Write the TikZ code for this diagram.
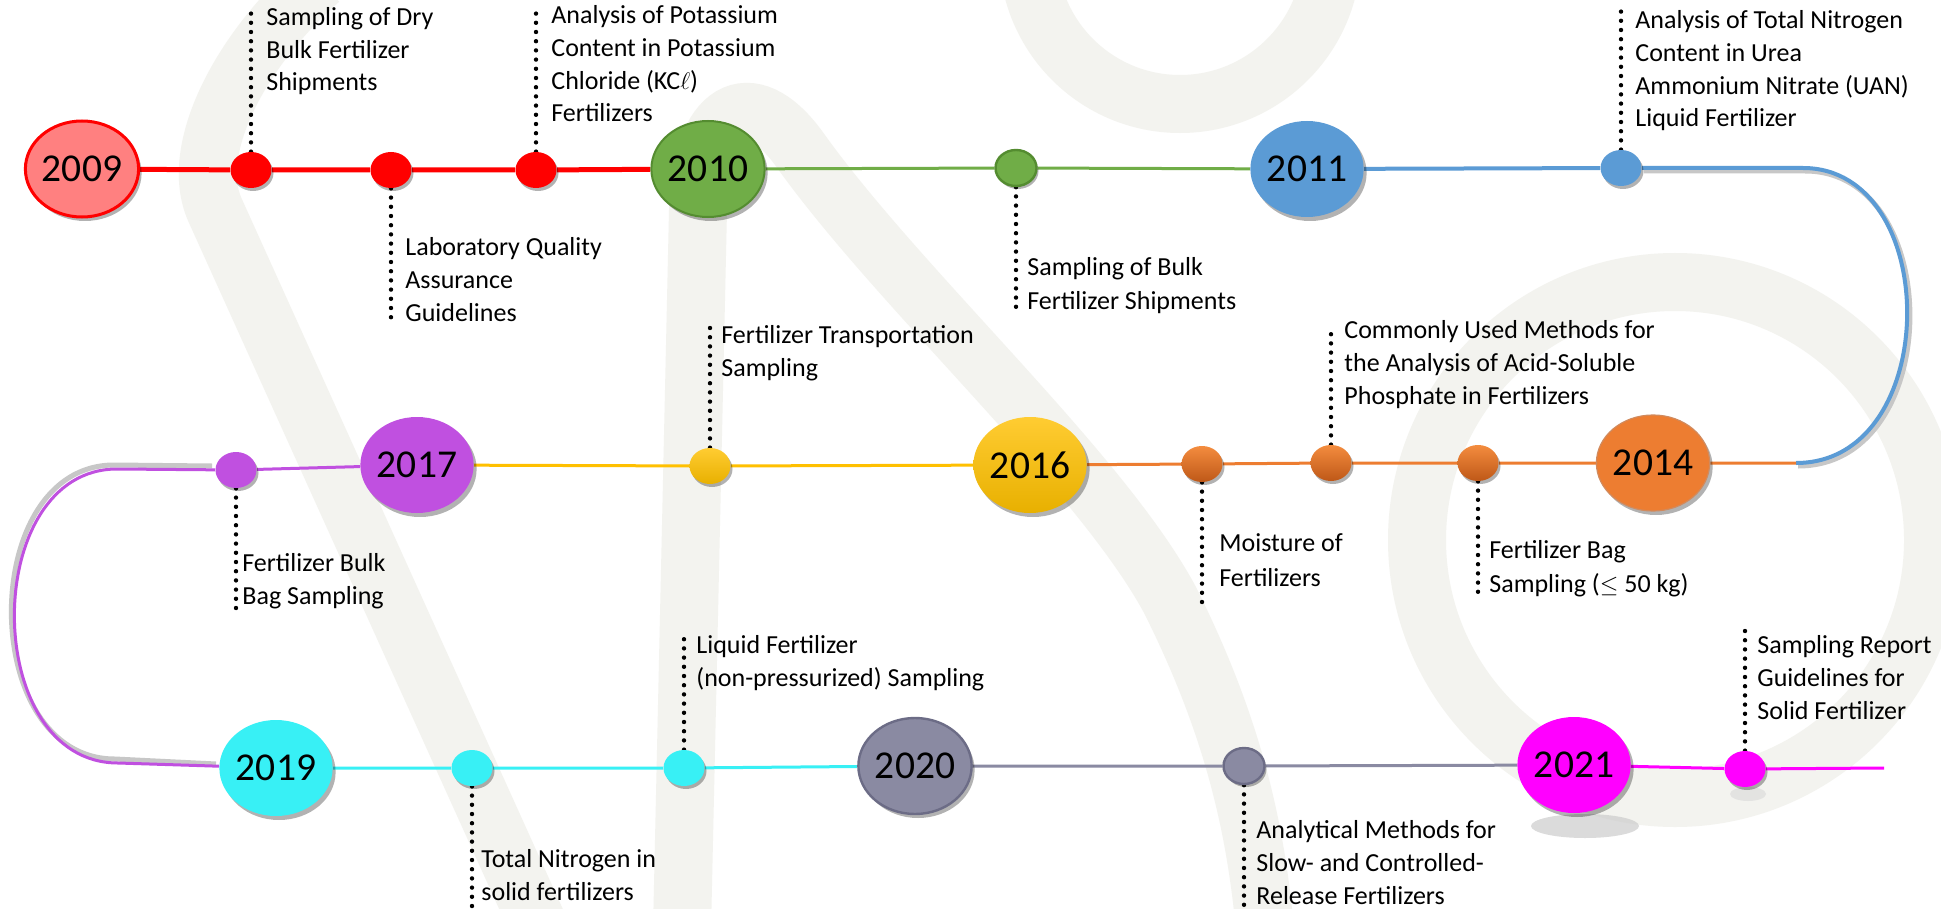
\documentclass[tikz,border=0pt]{standalone}
\usepackage{fontspec}
\setmainfont{Carlito}
\usetikzlibrary{shapes.geometric,shadows}
\definecolor{bandgray}{RGB}{243,243,239}
\definecolor{cRed}{RGB}{255,0,0}
\definecolor{cSalmon}{RGB}{255,128,128}
\definecolor{cGreen}{RGB}{112,173,71}
\definecolor{cGreenD}{RGB}{84,140,48}
\definecolor{cBlue}{RGB}{91,155,213}
\definecolor{cOrange}{RGB}{237,125,49}
\definecolor{cOrangeL}{RGB}{244,140,62}
\definecolor{cOrangeD}{RGB}{190,88,24}
\definecolor{cGold}{RGB}{255,192,0}
\definecolor{cGoldL}{RGB}{255,204,50}
\definecolor{cGoldD}{RGB}{232,176,0}
\definecolor{cPurple}{RGB}{192,80,224}
\definecolor{cCyan}{RGB}{56,240,245}
\definecolor{cGray}{RGB}{138,138,162}
\definecolor{cGrayD}{RGB}{108,108,134}
\definecolor{cMagenta}{RGB}{255,0,255}
\pgfdeclarelayer{bg}
\pgfdeclarelayer{lines}
\pgfsetlayers{bg,lines,main}
\tikzset{
  yearnode/.style={ellipse, minimum width=52pt, minimum height=48pt, inner sep=0pt,
    font=\fontsize{19.75}{20}\selectfont,
    drop shadow={shadow xshift=1.5pt, shadow yshift=-2pt, opacity=0.3, fill=black}},
  dotnode/.style={ellipse, minimum width=20.5pt, minimum height=18pt, inner sep=0pt,
    drop shadow={shadow xshift=1pt, shadow yshift=-1.5pt, opacity=0.3, fill=black}},
  desc/.style={anchor=base west, align=left, inner sep=0pt, font=\fontsize{13}{16.4}\selectfont},
  leaderline/.style={black, line width=2.2pt, dash pattern=on 0pt off 4.6pt, line cap=round},
  tline/.style={line width=1.5pt},
  bgstroke/.style={draw=bandgray, line width=29pt},
  lshadow/.style={black!22, line width=2.5pt},
}
\begin{document}
\begin{tikzpicture}[x=0.5pt,y=-0.5pt]
\useasboundingbox (0,0) rectangle (1941,909);
% ---------------- nodes ----------------
\node[yearnode, fill=cSalmon, draw=cRed, line width=1.5pt] (y2009) at (82,169) {2009};
\node[dotnode, fill=cRed] (r1) at (251,170) {};
\node[dotnode, fill=cRed] (r2) at (391,170) {};
\node[dotnode, fill=cRed] (r3) at (536,170) {};
\node[yearnode, fill=cGreen, draw=cGreenD, line width=1pt] (y2010) at (708,169) {2010};
\node[dotnode, fill=cGreen, draw=cGreenD, line width=1.2pt] (g1) at (1016,168) {};
\node[yearnode, fill=cBlue] (y2011) at (1307,169) {2011};
\node[dotnode, fill=cBlue] (b1) at (1621,168) {};
\coordinate (bc1) at (1803,168);
\coordinate (bc2) at (1796,463);
\node[yearnode, fill=cOrange, draw=cOrangeD!70, line width=0.6pt] (y2014) at (1653,463) {2014};
\node[dotnode, top color=cOrangeL, bottom color=cOrangeD] (o3) at (1478,463) {};
\node[dotnode, top color=cOrangeL, bottom color=cOrangeD] (o2) at (1331,463) {};
\node[dotnode, top color=cOrangeL, bottom color=cOrangeD] (o1) at (1202,464) {};
\node[yearnode, top color=cGoldL, bottom color=cGoldD] (y2016) at (1030,465) {2016};
\node[dotnode, top color=cGoldL, bottom color=cGoldD] (yd) at (710,466) {};
\node[yearnode, fill=cPurple] (y2017) at (417,465) {2017};
\node[dotnode, fill=cPurple] (pd) at (236,470) {};
\coordinate (pc1) at (117,469);
\coordinate (pc2) at (118,763);
\node[yearnode, fill=cCyan] (y2019) at (276,768) {2019};
\node[dotnode, fill=cCyan] (c1) at (472,768) {};
\node[dotnode, fill=cCyan] (c2) at (684,768) {};
\node[yearnode, fill=cGray, draw=cGrayD, line width=1.2pt] (y2020) at (915,766) {2020};
\node[dotnode, fill=cGray, draw=cGrayD, line width=1.2pt] (gr1) at (1244,766) {};
\node[yearnode, fill=cMagenta] (y2021) at (1574,765) {2021};
\node[dotnode, fill=cMagenta] (m1) at (1745,769) {};
\coordinate (mend) at (1884,768);
% ---------------- background ----------------
\begin{pgfonlayer}{bg}
\fill[white] (0,0) rectangle (1941,909);
\begin{scope}
\clip (0,0) rectangle (1941,909);
\draw[bgstroke] (320,-20) .. controls (240,50) and (188,150) .. (215,210) -- (545,940);
\draw[bgstroke] (682,930) -- (698,210) .. controls (700,110) and (750,80) .. (800,150)
   .. controls (900,290) and (1100,470) .. (1170,600) .. controls (1230,720) and (1255,820) .. (1265,930);
\draw[bgstroke] (1180,-48) circle[radius=152];
\draw[bgstroke] (1675,540) circle[radius=258];
\end{scope}
\end{pgfonlayer}
% ---------------- connectors ----------------
\begin{pgfonlayer}{lines}
\fill[black!20, opacity=0.7] (1585,826) ellipse [x radius=54, y radius=12];
\fill[black!15, opacity=0.6] (1748,794) ellipse [x radius=18, y radius=7];
\draw[lshadow] ([shift={(-3,-4)}]pd.west) -- ([shift={(-3,-4)}]pc1)
   .. controls (-23,465) and (-23,759) .. ([shift={(-3,-4)}]pc2) -- ([shift={(-3,-4)}]y2019.west);
\draw[lshadow] ([shift={(2,3)}]b1.east) -- ([shift={(2,3)}]bc1)
   .. controls (1946,171) and (1946,466) .. ([shift={(2,3)}]bc2);
\draw[cRed, line width=2.5pt] (y2009) -- (r1) -- (r2) -- (r3) -- (y2010);
\draw[cGreen, tline] (y2010) -- (g1) -- (y2011);
\draw[cBlue, line width=2pt] (y2011) -- (b1) -- (bc1) .. controls (1943,168) and (1943,463) .. (bc2);
\draw[cOrange, tline] (bc2) -- (y2014) -- (o3) -- (o2) -- (o1) -- (y2016);
\draw[cGold, tline] (y2016) -- (yd) -- (y2017);
\draw[cPurple, tline] (y2017) -- (pd) -- (pc1) .. controls (-20,469) and (-20,763) .. (pc2) -- (y2019);
\draw[cCyan, tline] (y2019) -- (c1) -- (c2) -- (y2020);
\draw[cGray, tline] (y2020) -- (gr1) -- (y2021);
\draw[cMagenta, tline] (y2021) -- (m1) -- (mend);
% leader lines
\coordinate (e1) at (251,6);   \draw[leaderline] (r1.north) -- (e1);
\coordinate (e2) at (391,325); \draw[leaderline] (r2.south) -- (e2);
\coordinate (e3) at (536,7);   \draw[leaderline] (r3.north) -- (e3);
\coordinate (e4) at (1016,313); \draw[leaderline] (g1.south) -- (e4);
\coordinate (e5) at (1621,10); \draw[leaderline] (b1.north) -- (e5);
\coordinate (e6) at (1331,326); \draw[leaderline] (o2.north) -- (e6);
\coordinate (e7) at (1202,603); \draw[leaderline] (o1.south) -- (e7);
\coordinate (e8) at (1478,597); \draw[leaderline] (o3.south) -- (e8);
\coordinate (e9) at (710,328); \draw[leaderline] (yd.north) -- (e9);
\coordinate (e10) at (236,609); \draw[leaderline] (pd.south) -- (e10);
\coordinate (e11) at (684,635); \draw[leaderline] (c2.north) -- (e11);
\coordinate (e12) at (472,909); \draw[leaderline] (c1.south) -- (e12);
\coordinate (e13) at (1244,909); \draw[leaderline] (gr1.south) -- (e13);
\coordinate (e14) at (1745,629); \draw[leaderline] (m1.north) -- (e14);
\end{pgfonlayer}
% ---------------- labels (anchored at the baseline of the last line) ----------------
\node[desc] (t1) at (266,91) {Sampling of Dry\\Bulk Fertilizer\\Shipments};
\node[desc] (t2) at (405,321) {Laboratory Quality\\Assurance\\Guidelines};
\node[desc] (t3) at (551,122) {Analysis of Potassium\\Content in Potassium\\Chloride (KC$\ell$)\\Fertilizers};
\node[desc, font=\fontsize{13}{17}\selectfont] (t4) at (1027,309) {Sampling of Bulk\\Fertilizer Shipments};
\node[desc] (t5) at (1635,127) {Analysis of Total Nitrogen\\Content in Urea\\Ammonium Nitrate (UAN)\\Liquid Fertilizer};
\node[desc] (t6) at (1344,404) {Commonly Used Methods for\\the Analysis of Acid-Soluble\\Phosphate in Fertilizers};
\node[desc] (t7) at (721,376) {Fertilizer Transportation\\Sampling};
\node[desc, font=\fontsize{13}{17.5}\selectfont] (t8) at (1219,586) {Moisture of\\Fertilizers};
\node[desc, font=\fontsize{13}{17}\selectfont] (t9) at (1489,592) {Fertilizer Bag\\Sampling ($\leq$ 50 kg)};
\node[desc] (t10) at (242,604) {Fertilizer Bulk\\Bag Sampling};
\node[desc] (t11) at (696,686) {Liquid Fertilizer\\(non-pressurized) Sampling};
\node[desc] (t12) at (481,900) {Total Nitrogen in\\solid fertilizers};
\node[desc] (t13) at (1256,904) {Analytical Methods for\\Slow- and Controlled-\\Release Fertilizers};
\node[desc] (t14) at (1757,719) {Sampling Report\\Guidelines for\\Solid Fertilizer};
\end{tikzpicture}
\end{document}
